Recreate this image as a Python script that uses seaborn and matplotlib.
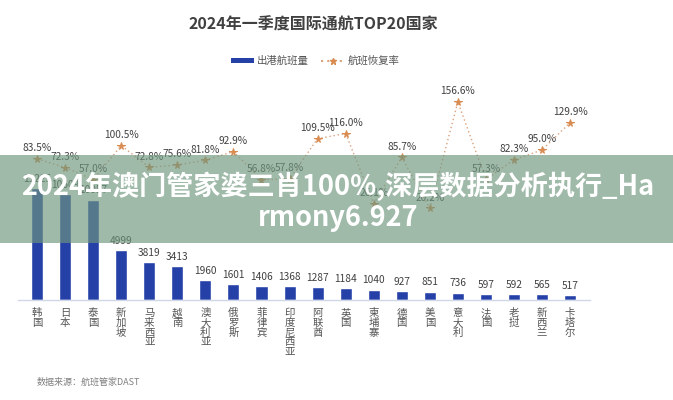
import numpy as np
import pandas as pd
import matplotlib
matplotlib.use("Agg")
import matplotlib.pyplot as plt
import seaborn as sns
from matplotlib.lines import Line2D
from matplotlib.patches import Patch, Rectangle

countries = ["韩国", "日本", "泰国", "新加坡", "马来西亚", "越南", "澳大利亚", "俄罗斯", "菲律宾",
             "印度尼西亚", "阿联酋", "英国", "柬埔寨", "德国", "美国", "意大利", "法国", "老挝",
             "新西兰", "卡塔尔"]
flights = [11225, 10609, 10057, 4999, 3819, 3413, 1960, 1601, 1406, 1368, 1287, 1184, 1040,
           927, 851, 736, 597, 592, 565, 517]
recovery = [83.5, 72.3, 57.0, 100.5, 72.8, 75.6, 81.8, 92.9, 56.8, 57.8, 109.5, 116.0, 26.1,
            85.7, 20.2, 156.6, 57.3, 82.3, 95.0, 129.9]

title = "2024年一季度国际通航TOP20国家"
legend_bar = "出港航班量"
legend_line = "航班恢复率"
source = "数据来源：航班管家DAST"
banner = ["2024年澳门管家婆三肖100%,深层数据分析执行_Ha", "rmony6.927"]

sns.set_theme(style="white")
plt.rcParams["font.family"] = ["Noto Sans CJK SC", "DejaVu Sans"]

W, H = 673, 400
fig = plt.figure(figsize=(W / 100, H / 100), dpi=100)
ax = fig.add_axes([18 / W, 1 - 300 / H, (590 - 18) / W, (300 - 90) / H])

df = pd.DataFrame({"country": countries, "flights": flights, "recovery": recovery})
bar_color = "#2541a8"
sns.barplot(data=df, x="country", y="flights", order=countries, color=bar_color,
            width=0.43, saturation=1, ax=ax)
ax.set_xlim(-0.68, 19.71)
ax.set_ylim(0, 21042)
for p, v in zip(ax.patches, flights):
    ax.annotate(f"{v}", (p.get_x() + p.get_width() / 2, p.get_height()),
                xytext=(0, 3), textcoords="offset points", ha="center", va="bottom",
                fontsize=7.3, color="#404040")

ax2 = ax.twinx()
sns.lineplot(x=np.arange(len(countries)), y=recovery, ax=ax2, color="#d9a27c",
             linestyle=(0, (1, 2)), linewidth=1.0, marker="*", markersize=5.5,
             markerfacecolor="#d98c52", markeredgecolor="#d98c52")
ax2.set_ylim(-97.4, 171.8)
for i, r in enumerate(recovery):
    ax2.annotate(f"{r:.1f}%", (i, r), xytext=(0, 4), textcoords="offset points",
                 ha="center", va="bottom", fontsize=7.3, color="#404040")

for a in (ax, ax2):
    for s in a.spines.values():
        s.set_visible(False)
    a.set_yticks([])
    a.set_ylabel("")
ax.set_xlabel("")
ax.spines["bottom"].set_visible(True)
ax.spines["bottom"].set_color("#d0d8e8")
ax.spines["bottom"].set_linewidth(1)
ax.set_xticks(range(len(countries)))
ax.set_xticklabels(["\n".join(c) for c in countries], fontsize=7.5, color="#555555",
                   linespacing=0.95, va="top")
ax.tick_params(axis="x", length=0, pad=6)

fig.text(313 / W, 1 - 25 / H, title, ha="center", va="center", fontsize=11.5,
         fontweight="bold", color="#404040")

handles = [Patch(facecolor=bar_color, edgecolor="none"),
           Line2D([0], [0], color="#d9a27c", linestyle=(0, (1, 2)), marker="*",
                  markersize=5, markerfacecolor="#d98c52", markeredgecolor="#d98c52")]
fig.legend(handles, [legend_bar, legend_line], loc="center", bbox_to_anchor=(315 / W, 1 - 61 / H),
           ncol=2, frameon=False, fontsize=7.5, handlelength=2.2, handleheight=0.4,
           columnspacing=1.2, handletextpad=0.3, labelcolor="#555555")

fig.text(37 / W, 1 - 382 / H, source, ha="left", va="center", fontsize=6.5, color="#808080")

fig.patches.append(Rectangle((0, 1 - 243 / H), 1, (243 - 155) / H, transform=fig.transFigure,
                             facecolor=(111 / 255, 150 / 255, 126 / 255), alpha=0.66,
                             edgecolor="none", zorder=10))
fig.text(338 / W, 1 - 186 / H, banner[0], ha="center", va="center", fontsize=19.5,
         fontweight="bold", color="white", zorder=11)
fig.text(338 / W, 1 - 218 / H, banner[1], ha="center", va="center", fontsize=19.5,
         fontweight="bold", color="white", zorder=11)

fig.savefig("out.png", dpi=100)
